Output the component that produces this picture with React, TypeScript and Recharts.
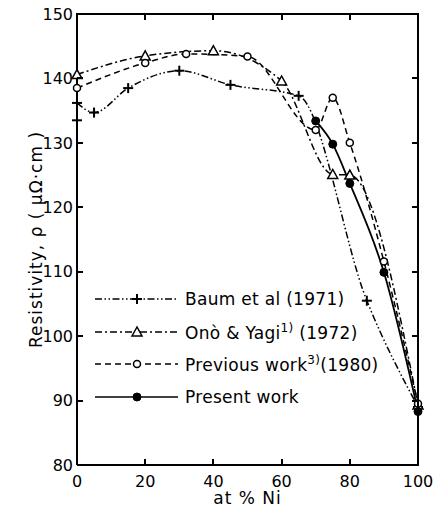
import { LineChart, Line, XAxis, YAxis } from 'recharts';

// at % Ni and resistivity (μΩ·cm)
const baumNi = [0, 5, 15, 30, 45, 65, 85, 100];
const baumRho = [136.2, 134.7, 138.5, 141.2, 139, 137.3, 105.5, 89];
const baumExtraNi = [0];
const baumExtraRho = [133.5];

const onoNi = [0, 20, 40, 60, 75, 80, 100];
const onoRho = [140.6, 143.5, 144.3, 139.6, 125.1, 125, 89.3];

const prevNi = [0, 20, 32, 50, 70, 75, 80, 90, 100];
const prevRho = [138.5, 142.4, 143.8, 143.4, 132, 137, 130, 111.6, 89.5];

const presNi = [70, 75, 80, 90, 100];
const presRho = [133.4, 129.8, 123.7, 109.9, 88.3];

const xTicks = [0, 20, 40, 60, 80, 100];
const yTicks = [80, 90, 100, 110, 120, 130, 140, 150];

const FONT = '"DejaVu Sans", sans-serif';

// chart box
const W = 447;
const H = 516;
const M = { top: 14, right: 29, left: 0, bottom: 0 };
const Y_AXIS_W = 77;
const X_AXIS_H = 51;
const PL = M.left + Y_AXIS_W;
const PR = W - M.right;
const PT = M.top;
const PB = H - M.bottom - X_AXIS_H;

const toPoints = (xs: number[], ys: number[]) => xs.map((x, i) => ({ ni: x, rho: ys[i] }));

const baumData = toPoints(baumNi, baumRho);
const baumExtra = toPoints(baumExtraNi, baumExtraRho);
const onoData = toPoints(onoNi, onoRho);
const prevData = toPoints(prevNi, prevRho);
const presData = toPoints(presNi, presRho);

type Shape = 'plus' | 'triangle' | 'circle' | 'dot';

function marker(shape: Shape, cx: number, cy: number, key?: any) {
  if (cx == null || cy == null) return <g key={key} />;
  if (shape === 'plus') {
    return (
      <g key={key} stroke="#000" strokeWidth={2}>
        <line x1={cx - 5} y1={cy} x2={cx + 5} y2={cy} />
        <line x1={cx} y1={cy - 5} x2={cx} y2={cy + 5} />
      </g>
    );
  }
  if (shape === 'triangle') {
    return (
      <polygon
        key={key}
        points={`${cx},${cy - 5} ${cx - 5},${cy + 4} ${cx + 5},${cy + 4}`}
        fill="#fff"
        stroke="#000"
        strokeWidth={1.5}
      />
    );
  }
  if (shape === 'circle') {
    return <circle key={key} cx={cx} cy={cy} r={3.5} fill="#fff" stroke="#000" strokeWidth={1.5} />;
  }
  return <circle key={key} cx={cx} cy={cy} r={4} fill="#000" stroke="#000" />;
}

const dotFor = (shape: Shape) => (p: any) => marker(shape, p.cx, p.cy, p.index);

const SERIES = [
  { name: 'Baum et al (1971)', dash: '7 2.5 1.5 2.5 1.5 2.5', shape: 'plus' as Shape, sup: '', tail: '' },
  { name: 'Onò & Yagi', dash: '7 3 2 3', shape: 'triangle' as Shape, sup: '1)', tail: ' (1972)' },
  { name: 'Previous work', dash: '6 4', shape: 'circle' as Shape, sup: '3)', tail: '(1980)' },
  { name: 'Present work', dash: undefined, shape: 'dot' as Shape, sup: '', tail: '' },
];

function LegendBox() {
  return (
    <div
      style={{
        position: 'absolute',
        left: 94,
        top: 283,
        zIndex: 5,
        fontFamily: FONT,
        fontSize: 17,
        letterSpacing: 0.3,
        color: '#000',
      }}
    >
      {SERIES.map((s) => (
        <div key={s.name} style={{ display: 'flex', alignItems: 'center', height: 32.5 }}>
          <svg width={86} height={16} style={{ marginRight: 5 }}>
            <line x1={1} y1={8} x2={84} y2={8} stroke="#000" strokeWidth={1.5} strokeDasharray={s.dash} />
            {marker(s.shape, 43, 8)}
          </svg>
          <span style={{ whiteSpace: 'nowrap' }}>
            {s.name}
            {s.sup && <sup style={{ fontSize: 12 }}>{s.sup}</sup>}
            {s.tail}
          </span>
        </div>
      ))}
    </div>
  );
}

// top and right sides of the box plus inward ticks, as plain positioned divs
function Frame() {
  const sx = (v: number) => PL + (v / 100) * (PR - PL);
  const sy = (v: number) => PB - ((v - 80) / 70) * (PB - PT);
  const t = 6;
  const bar = (key: string, left: number, top: number, width: number, height: number) => (
    <div key={key} style={{ position: 'absolute', left, top, width, height, background: '#000' }} />
  );
  const parts = [
    bar('top', PL - 1, PT - 1, PR - PL + 2, 2),
    bar('right', PR - 1, PT - 1, 2, PB - PT + 2),
  ];
  xTicks.slice(1, -1).forEach((v) => {
    parts.push(bar(`xt${v}`, sx(v) - 1, PT, 2, t));
    parts.push(bar(`xb${v}`, sx(v) - 1, PB - t, 2, t));
  });
  yTicks.slice(1, -1).forEach((v) => {
    parts.push(bar(`yl${v}`, PL, sy(v) - 1, t, 2));
    parts.push(bar(`yr${v}`, PR - t, sy(v) - 1, t, 2));
  });
  return (
    <div style={{ position: 'absolute', left: 0, top: 0, width: W, height: H, zIndex: 4, pointerEvents: 'none' }}>
      {parts}
    </div>
  );
}

export default function App() {
  return (
    <div style={{ position: 'absolute', left: 0, top: 0, width: W, height: H, background: '#fff' }}>
      <LineChart width={W} height={H} margin={M}>
        <XAxis
          dataKey="ni"
          type="number"
          domain={[0, 100]}
          ticks={xTicks}
          allowDuplicatedCategory={false}
          stroke="#000"
          strokeWidth={2}
          tickLine={false}
          tickSize={-6}
          tickMargin={17}
          height={X_AXIS_H}
          tick={{ fill: '#000', fontSize: 16, fontFamily: FONT }}
          label={{ value: 'at % Ni', position: 'insideBottom', offset: 12, fill: '#000', fontSize: 17, fontFamily: FONT, letterSpacing: 1 }}
        />
        <YAxis
          dataKey="rho"
          type="number"
          domain={[80, 150]}
          ticks={yTicks}
          width={Y_AXIS_W}
          stroke="#000"
          strokeWidth={2}
          tickLine={false}
          tickSize={-6}
          tickMargin={10}
          tick={{ fill: '#000', fontSize: 16, fontFamily: FONT }}
          label={{
            value: 'Resistivity, ρ ( μΩ·cm )',
            angle: -90,
            position: 'center',
            dx: -3,
            fill: '#000',
            fontSize: 17,
            letterSpacing: 1,
            fontFamily: FONT,
          }}
        />
        <Line
          data={baumData}
          dataKey="rho"
          type="monotone"
          stroke="#000"
          strokeWidth={1.5}
          strokeDasharray={SERIES[0].dash}
          dot={dotFor('plus')}
          isAnimationActive={false}
        />
        <Line
          data={baumExtra}
          dataKey="rho"
          stroke="none"
          dot={dotFor('plus')}
          legendType="none"
          isAnimationActive={false}
        />
        <Line
          data={onoData}
          dataKey="rho"
          type="monotone"
          stroke="#000"
          strokeWidth={1.5}
          strokeDasharray={SERIES[1].dash}
          dot={dotFor('triangle')}
          isAnimationActive={false}
        />
        <Line
          data={prevData}
          dataKey="rho"
          type="monotone"
          stroke="#000"
          strokeWidth={1.5}
          strokeDasharray={SERIES[2].dash}
          dot={dotFor('circle')}
          isAnimationActive={false}
        />
        <Line
          data={presData}
          dataKey="rho"
          type="monotone"
          stroke="#000"
          strokeWidth={1.8}
          dot={dotFor('dot')}
          isAnimationActive={false}
        />
      </LineChart>
      <Frame />
      <LegendBox />
    </div>
  );
}
